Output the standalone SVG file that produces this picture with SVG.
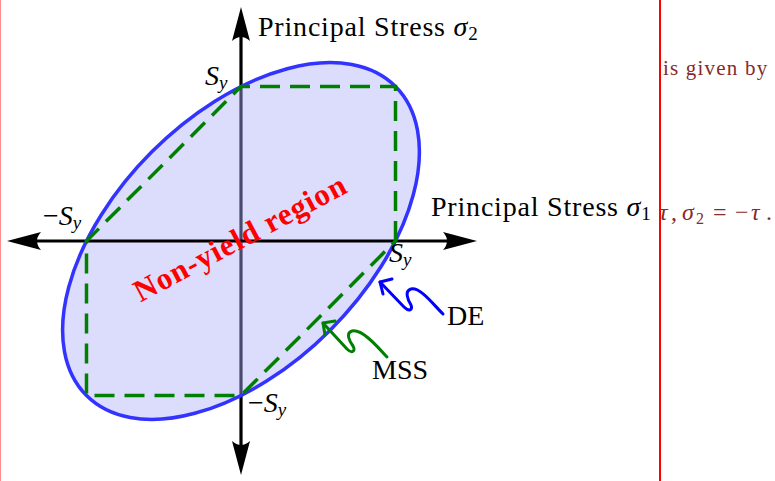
<svg xmlns="http://www.w3.org/2000/svg" width="775" height="481" viewBox="0 0 775 481">
<style>
text{font-family:"Liberation Serif","Times New Roman",serif;}
.lbl{font-size:28px;fill:#000;}
.ax{letter-spacing:0.8px;}
.it{font-style:italic;}
.sub{font-size:19px;letter-spacing:0;}
.axis{stroke:#000;stroke-width:3.2;fill:none;}
.head{fill:#000;stroke:none;}
.note{font-size:21px;fill:#862a2a;letter-spacing:1.2px;}
.eq{font-size:24px;fill:#862a2a;}
</style>
<rect x="0" y="0" width="775" height="481" fill="#fff"/>
<line x1="0.5" y1="0" x2="0.5" y2="481" stroke="#ff8c8c" stroke-width="1"/>
<g id="region">
<line class="axis" x1="241" y1="30" x2="241" y2="455"/>
<path class="head" d="M241,7 L232,41 Q241,33 250,41 Z"/>
<path class="head" d="M241,475 L232,441 Q241,449 250,441 Z"/>
<ellipse cx="241" cy="241" rx="218.5" ry="126.1" transform="rotate(-45 241 241)" fill="#dcdcfd"/>
<line x1="241" y1="87" x2="241" y2="395" stroke="#4a4a6e" stroke-width="3.2"/>
<line class="axis" x1="30" y1="241" x2="455" y2="241"/>
<path class="head" d="M7,241 L41,232 Q33,241 41,250 Z"/>
<path class="head" d="M477,241 L443,232 Q451,241 443,250 Z"/>
</g>
<g id="de-ellipse">
<ellipse cx="241" cy="241" rx="218.5" ry="126.1" transform="rotate(-45 241 241)" fill="none" stroke="#3333ff" stroke-width="3.5"/>
</g>
<g id="mss-hexagon">
<path d="M395.5,241 L395.5,86.5 L241,86.5 L86.5,241 L86.5,395.5 L241,395.5 Z" fill="none" stroke="#008000" stroke-width="3.5" stroke-dasharray="20 10"/>
</g>
<g id="connectors" fill="none" stroke-width="3" stroke-linecap="round" stroke-linejoin="round">
<path d="M443,314 C432,303 420,287 411,289 C404,291 408,300 411,305 C413,310 409,312 404,307 L380,282" stroke="#0000ff"/>
<path d="M392,279 L380,282 L383,294" stroke="#0000ff"/>
<path d="M387,357 C376,345 362,329 352,331 C345,333 350,342 353,346 C356,351 352,354 347,349 L323,323" stroke="#008000"/>
<path d="M335,321 L323,323 L325,335" stroke="#008000"/>
</g>
<g id="labels">
<text class="lbl ax" x="258" y="36">Principal Stress <tspan class="it">σ</tspan><tspan class="sub" dy="4">2</tspan></text>
<text class="lbl ax" x="431" y="216">Principal Stress <tspan class="it">σ</tspan><tspan class="sub" dy="4">1</tspan></text>
<text class="lbl" x="205" y="85"><tspan class="it">S</tspan><tspan class="it sub" dy="4">y</tspan></text>
<text class="lbl" x="43" y="225">−<tspan class="it">S</tspan><tspan class="it sub" dy="4">y</tspan></text>
<text class="lbl" x="389" y="262"><tspan class="it">S</tspan><tspan class="it sub" dy="4">y</tspan></text>
<text class="lbl" x="248" y="412">−<tspan class="it">S</tspan><tspan class="it sub" dy="4">y</tspan></text>
<text class="lbl" x="447" y="325">DE</text>
<text class="lbl" x="372" y="379">MSS</text>
<text transform="translate(245,247) rotate(-28)" text-anchor="middle" font-weight="bold" font-size="31" fill="#ff0000" letter-spacing="1">Non-yield region</text>
</g>
<g id="margin-text">
<text class="note" x="663" y="75">is given by</text>
<text class="eq" y="220"><tspan class="it" x="659">τ</tspan><tspan x="671">,</tspan><tspan class="it" x="682">σ</tspan><tspan x="696" dy="4" style="font-size:16px">2</tspan><tspan x="713" dy="-4">=</tspan><tspan x="735">−</tspan><tspan class="it" x="751">τ</tspan><tspan x="766">.</tspan></text>
<line x1="660" y1="0" x2="660" y2="481" stroke="#ff0000" stroke-width="2"/>
</g>
</svg>
